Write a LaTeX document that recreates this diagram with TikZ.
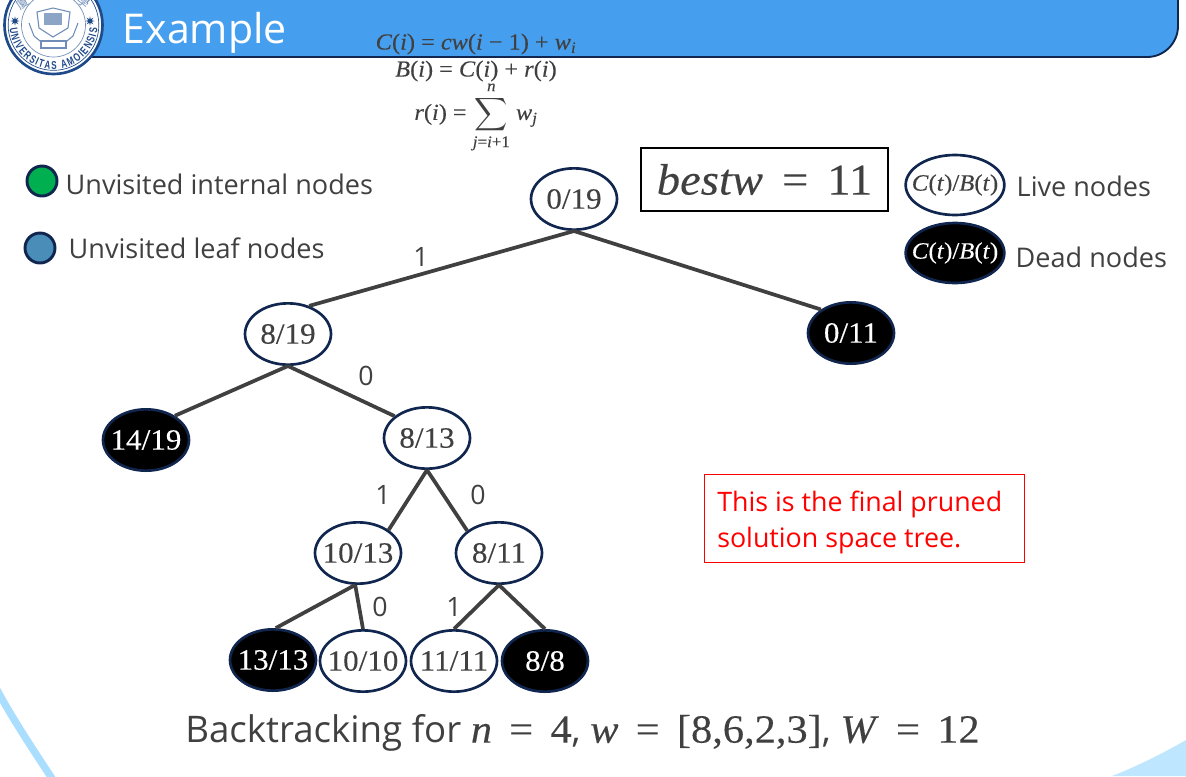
\documentclass[tikz,border=0pt]{standalone}
\usepackage{fontspec}
\usepackage{amsmath}
\setmainfont{Open Sans}
\newfontfamily\mfont[FakeStretch=1.06,FakeBold=0.2,ItalicFeatures={FakeBold=0.2}]{Liberation Serif}
\newfontfamily\sealfont[FakeStretch=0.72]{Liberation Sans}
\newfontfamily\cjk{Noto Sans CJK TC}
\usetikzlibrary{shapes.geometric,decorations.text}
\definecolor{barblue}{HTML}{469FEE}
\definecolor{navy}{HTML}{10264F}
\definecolor{textgrey}{HTML}{404040}
\definecolor{edgegrey}{HTML}{404040}
\definecolor{swirl}{HTML}{A9DEFF}
\definecolor{corner}{HTML}{BFE6FF}
\definecolor{sealblue}{HTML}{1F4A8A}
\definecolor{crest}{HTML}{6F8DB8}
\definecolor{dotgreen}{HTML}{00B050}
\definecolor{dotblue}{HTML}{4A8DB8}
\newcommand{\fs}[1]{\fontsize{#1}{#1}\selectfont}
\newcommand{\lb}[1]{\makebox[0pt]{\mfont #1}}
\newcommand{\vv}[1]{\textit{#1}}

\begin{document}
\begin{tikzpicture}[x=0.75pt,y=-0.75pt,
    livenode/.style={draw=navy,fill=white,ellipse,line width=2pt,minimum width=64.5pt,minimum height=46pt,inner sep=0pt,text=textgrey,font=\fs{22}},
    deadnode/.style={livenode,fill=black,text=white},
    keynode/.style={livenode,minimum width=74pt,minimum height=45pt,font=\fs{17.5}},
    branch/.style={text=textgrey,font=\fs{20}},
    legend/.style={text=textgrey,anchor=west,font=\fs{20.3}},
    formula/.style={text=textgrey,font=\mfont\fs{17.2}},
    dotnode/.style={draw=navy,circle,line width=2.2pt,minimum size=22.5pt,inner sep=0pt},
    sealstar/.style={star,star points=8,star point ratio=2.4,fill=sealblue,minimum size=7pt,inner sep=0pt},
    treeedge/.style={draw=edgegrey,line width=2.8pt}]
    \useasboundingbox (0,0) rectangle (1186,776);
    \clip (0,0) rectangle (1186,776);

    % background
    \fill[corner] (1186,740) .. controls (1160,755) and (1135,767) .. (1112,776) -- (1186,776) -- cycle;
    \draw[swirl,line width=5.5pt] (-4,688) .. controls (12,718) and (32,748) .. (53,780);
    \draw[navy,fill=barblue,line width=1.4pt] (60,-5) -- (1178,-5) -- (1178,26) arc (0:90:31) -- (60,57) -- cycle;

    % seal
    \node[draw=sealblue,fill=white,circle,line width=2pt,minimum size=73.5pt,inner sep=0pt] (seal) at (53.5,25) {};
    \node[draw=sealblue,circle,line width=0.5pt,minimum size=68pt,inner sep=0pt] (sealmid) at (53.5,25) {};
    \node[draw=crest,circle,line width=0.5pt,minimum size=48pt,inner sep=0pt] (sealin) at (53.5,25) {};
    \node[sealstar] (staL) at (15,21) {};
    \node[sealstar] (staR) at (90,21) {};
    \node[text=crest,rotate=38,font=\cjk\fs{9}] (sealL) at (22,3) {廈};
    \node[text=crest,rotate=-38,font=\cjk\fs{9}] (sealR) at (84,2) {學};
    \draw[crest,line width=0.8pt] (37,12) -- (53,8) -- (70,12) -- (68,28) -- (53,37) -- (39,28) -- cycle;
    \fill[crest!80] (44,13) rectangle (62,25);
    \draw[crest,line width=0.8pt] (29,23) -- (34,36) -- (40,41) -- (67,41) -- (73,36) -- (78,23);
    \draw[crest,line width=0.8pt] (41,41) rectangle (66,48);
    \begin{scope}[shift={(53.5,25)},x=0.75pt,y=0.75pt]
    \path[decorate,decoration={text along path,text align=fit to path,
        text={|\sealfont\bfseries\fs{8.5}\color{sealblue}|UNIVERSITAS AMOIENSIS}}]
        (184:44) arc (184:356:44);
    \end{scope}

    \node[text=white,anchor=west,font=\fs{30.8}] (title) at (118,33) {Example};

    % formulas
    \node[formula] (cdef) at (476,44) {\vv{C}(\vv{i}) = \vv{cw}(\vv{i} − 1) + \vv{w}$_{\text{\vv{i}}}$};
    \node[formula] (bdef) at (476,71) {\vv{B}(\vv{i}) = \vv{C}(\vv{i}) + \vv{r}(\vv{i})};
    \node[formula] (rdef) at (476,117) {\vv{r}(\vv{i}) = $\displaystyle\sum_{\text{\vv{j}=\vv{i}+1}}^{\text{\vv{n}}}$ \vv{w}$_{\text{\vv{j}}}$};

    % legend
    \node[dotnode,fill=dotgreen] (green) at (42,181) {};
    \node[dotnode,fill=dotblue] (blue) at (40,248) {};
    \node[legend] (ginfo) at (61,184) {Unvisited internal nodes};
    \node[legend] (binfo) at (64,248) {Unvisited leaf nodes};
    \node[draw=black,line width=1.6pt,minimum width=185pt,minimum height=47pt,inner sep=0pt,text=textgrey,font=\mfont\fs{33}] (best) at (764.5,179.5) {\vv{bestw}\, = \,11};
    \node[keynode] (lkey) at (955,185) {\lb{\vv{C}(\vv{t})/\vv{B}(\vv{t})}};
    \node[keynode,fill=black,text=white] (dkey) at (955,253) {\lb{\vv{C}(\vv{t})/\vv{B}(\vv{t})}};
    \node[legend] (linfo) at (1012,186) {Live nodes};
    \node[legend] (dinfo) at (1011,257) {Dead nodes};
    \node[draw=red,line width=1.3pt,minimum width=240pt,minimum height=66pt,inner sep=0pt] (notebox) at (864.5,518.5) {};
    \node[text=red,align=left,anchor=west,inner sep=0pt,font=\fs{20.1}] (note) at (717,522.5) {This is the final pruned\\[7.5pt]solution space tree.};

    % tree
    \node[livenode] (n019) at (574,199) {\lb{0/19}};
    \node[livenode] (n819) at (288,334) {\lb{8/19}};
    \node[deadnode] (n011) at (851,333) {\lb{0/11}};
    \node[deadnode] (n1419) at (146,440) {\lb{14/19}};
    \node[livenode] (n813) at (427,438) {\lb{8/13}};
    \node[livenode] (n1013) at (358,553) {\lb{10/13}};
    \node[livenode] (n811) at (499,553) {\lb{8/11}};
    \node[deadnode] (n1313) at (273,660) {\lb{13/13}};
    \node[livenode] (n1010) at (363,661) {\lb{10/10}};
    \node[livenode] (n1111) at (454,661) {\lb{11/11}};
    \node[deadnode] (n88) at (545,661) {\lb{8/8}};

    \draw[treeedge] (n019.south) -- (n819.53);
    \draw[treeedge] (n019.south) -- (n011.142);
    \draw[treeedge] (n819.south) -- (n1419.40);
    \draw[treeedge] (n819.south) -- (n813.146);
    \draw[treeedge] (n813.south) -- (n1013.37);
    \draw[treeedge] (n813.south) -- (n811.145);
    \draw[treeedge] (n1013.265) -- (n1313.85);
    \draw[treeedge] (n1013.265) -- (n1010.north);
    \draw[treeedge] (n811.south) -- (n1111.north);
    \draw[treeedge] (n811.south) -- (n88.north);

    \node[branch] (b1) at (421,257) {1};
    \node[branch] (b2) at (366,376) {0};
    \node[branch] (b3) at (383,495) {1};
    \node[branch] (b4) at (478,495) {0};
    \node[branch] (b5) at (380,607) {0};
    \node[branch] (b6) at (454,607) {1};

    \node[text=textgrey,font=\fs{27.5}] (caption) at (582.5,733) {Backtracking for {\mfont\fs{30}\vv{n}\, = \,4}, {\mfont\fs{30}\vv{w}\, = \,[8,6,2,3]}, {\mfont\fs{30}\vv{W}\, = \,12}};
\end{tikzpicture}
\end{document}
